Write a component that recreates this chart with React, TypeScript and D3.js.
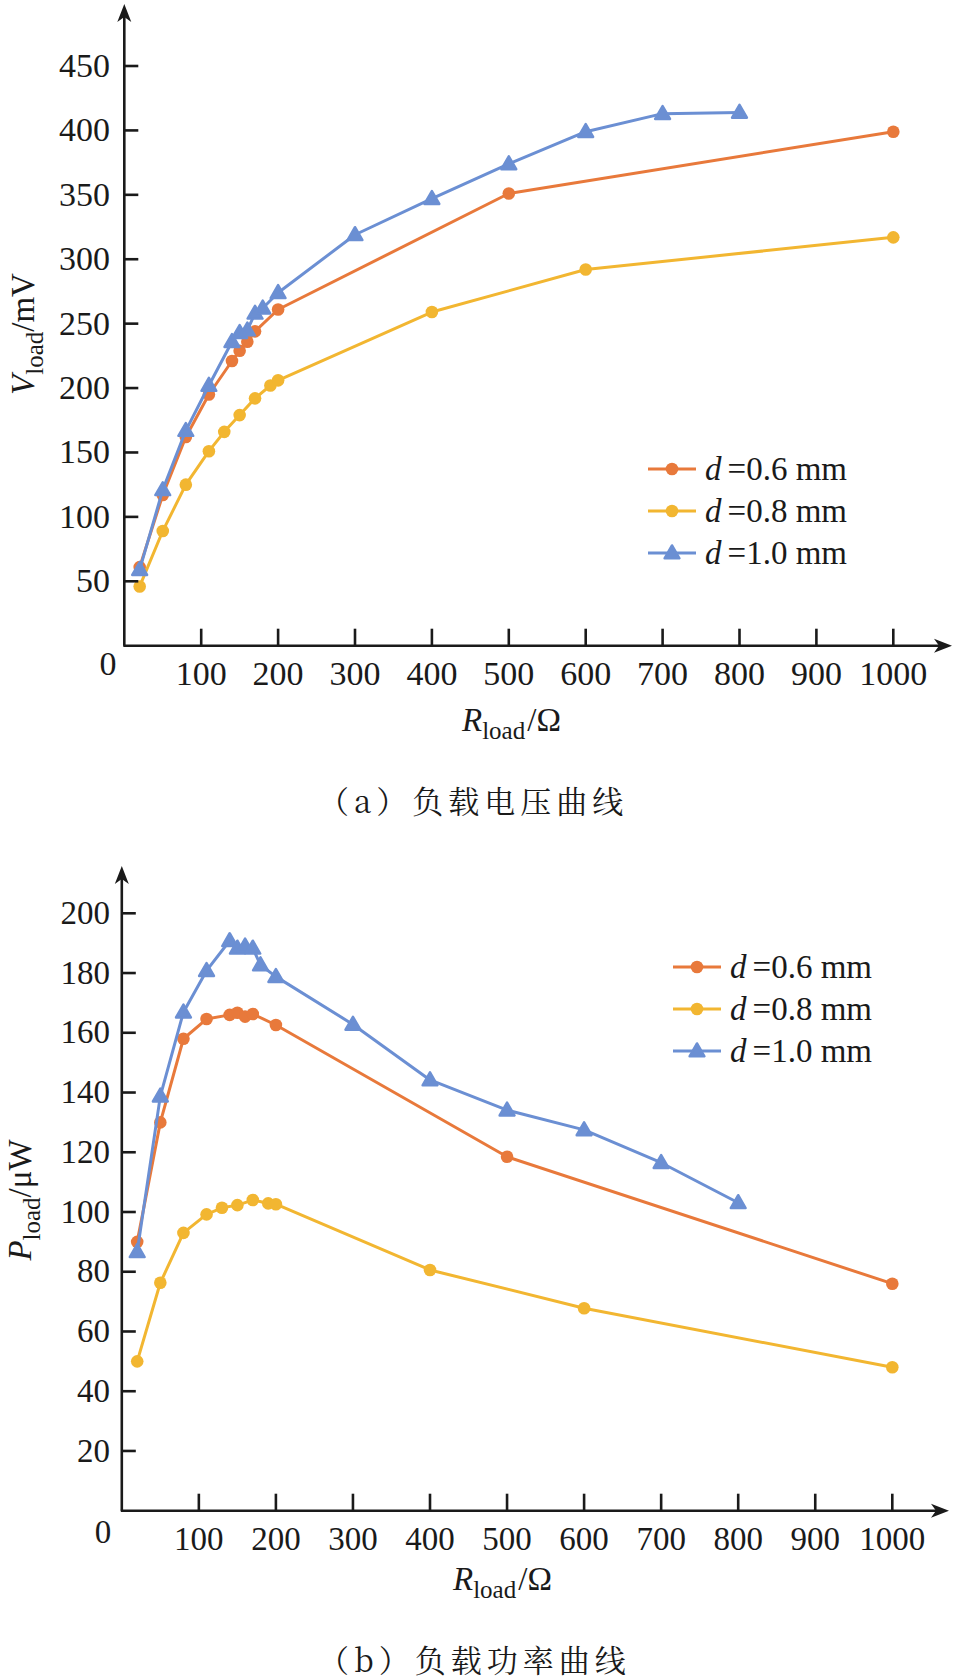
import * as d3 from 'd3';

// ---- shared ----
const xTicks = [100, 200, 300, 400, 500, 600, 700, 800, 900, 1000];
const vTicks = [50, 100, 150, 200, 250, 300, 350, 400, 450];
const pTicks = [20, 40, 60, 80, 100, 120, 140, 160, 180, 200];
const legendLabels = ['0.6 mm', '0.8 mm', '1.0 mm'];
const colors = ['#E8793B', '#F2B631', '#6B8FD3'];

// ---- (a) load voltage, mV ----
const rA06 = [20, 50, 80, 110, 140, 150, 160, 170, 200, 500, 1000];
const vA06 = [61, 117, 162, 195, 221, 229, 236, 244, 261, 351, 399];
const rA08 = [20, 50, 80, 110, 130, 150, 170, 190, 200, 400, 600, 1000];
const vA08 = [46, 89, 125, 151, 166, 179, 192, 202, 206, 259, 292, 317];
const rA10 = [20, 50, 80, 110, 140, 150, 160, 170, 180, 200, 300, 400, 500, 600, 700, 800];
const vA10 = [59, 121, 167, 202, 236, 243, 245, 258, 262, 274, 319, 347, 374, 399, 413, 414];

// ---- (b) load power, uW ----
const rB06 = [20, 50, 80, 110, 140, 150, 160, 170, 200, 500, 1000];
const pB06 = [90, 130, 158, 164.6, 166, 166.7, 165.4, 166.3, 162.6, 118.5, 76];
const rB08 = [20, 50, 80, 110, 130, 150, 170, 190, 200, 400, 600, 1000];
const pB08 = [50, 76.3, 93, 99.2, 101.4, 102.3, 104, 102.9, 102.6, 80.6, 67.8, 48];
const rB10 = [20, 50, 80, 110, 140, 150, 160, 170, 180, 200, 300, 400, 500, 600, 700, 800];
const pB10 = [86.7, 138.8, 166.9, 180.8, 190.8, 188.3, 189, 188.3, 182.7, 178.8, 162.8, 144.2, 134.1, 127.5, 116.5, 103.1];

const SERIF = '"Liberation Serif", "Times New Roman", serif';
const CJK = '"Noto Serif CJK SC", "Noto Sans CJK SC", sans-serif';

const zip = (xs: number[], ys: number[]) => xs.map((x, i) => [x, ys[i]] as [number, number]);
const triPath = d3.symbol().type(d3.symbolTriangle).size(95)() as string;

function Marker({ x, y, color, tri }: { x: number; y: number; color: string; tri: boolean }) {
  if (tri) return <path d={triPath} transform={`translate(${x},${y + 1})`} fill={color} stroke={color} strokeWidth={2.5} strokeLinejoin="round" />;
  return <circle cx={x} cy={y} r={6.3} fill={color} />;
}

interface PanelProps {
  series: [number, number][][];
  xs: d3.ScaleLinear<number, number>;
  ys: d3.ScaleLinear<number, number>;
  yTicks: number[];
  yTipY: number;
  xTipX: number;
  fontSize: number;
  zero: { x: number; y: number };
  xLabelY: number;
  xTitle: { x: number; y: number };
  yTitle: { x: number; y: number; main: string; unit: string };
  legend: { x: number; y: number; dy: number };
  caption: { x: number; y: number; text: string };
}

function Panel(p: PanelProps) {
  const { xs, ys, fontSize: fs } = p;
  const x0 = xs(0);
  const y0 = ys(0);
  const line = d3.line<[number, number]>().x(d => xs(d[0])).y(d => ys(d[1]));
  return (
    <g>
      {/* series, yellow drawn first so orange/blue sit above */}
      {[1, 0, 2].map(i => (
        <g key={i}>
          <path d={line(p.series[i]) ?? ''} fill="none" stroke={colors[i]} strokeWidth={3} strokeLinejoin="round" />
          {p.series[i].map((d, j) => (
            <Marker key={j} x={xs(d[0])} y={ys(d[1])} color={colors[i]} tri={i === 2} />
          ))}
        </g>
      ))}

      {/* axes */}
      <g stroke="#1a1a1a" strokeWidth={2.6} fill="none">
        <line x1={x0} y1={y0} x2={x0} y2={p.yTipY + 12} />
        <line x1={x0 - 1} y1={y0} x2={p.xTipX - 12} y2={y0} />
        {p.yTicks.map(t => (
          <line key={t} x1={x0} x2={x0 + 14} y1={ys(t)} y2={ys(t)} />
        ))}
        {xTicks.map(t => (
          <line key={t} x1={xs(t)} x2={xs(t)} y1={y0} y2={y0 - 17} />
        ))}
      </g>
      <path d={`M${x0},${p.yTipY}L${x0 - 7},${p.yTipY + 18}L${x0},${p.yTipY + 13}L${x0 + 7},${p.yTipY + 18}Z`} fill="#1a1a1a" />
      <path d={`M${p.xTipX},${y0}L${p.xTipX - 18},${y0 - 7}L${p.xTipX - 13},${y0}L${p.xTipX - 18},${y0 + 7}Z`} fill="#1a1a1a" />

      <g fontFamily={SERIF} fontSize={fs} fill="#1a1a1a">
        {p.yTicks.map(t => (
          <text key={t} x={110} y={ys(t) + fs * 0.32} textAnchor="end">{t}</text>
        ))}
        {xTicks.map(t => (
          <text key={t} x={xs(t)} y={p.xLabelY} textAnchor="middle">{t}</text>
        ))}
        <text x={p.zero.x} y={p.zero.y} textAnchor="middle">0</text>

        <text x={p.xTitle.x} y={p.xTitle.y} fontSize={33}>
          <tspan fontStyle="italic">R</tspan>
          <tspan fontSize={25} dy={8}>load</tspan>
          <tspan dy={-8} dx={2}>/Ω</tspan>
        </text>
        <text transform={`translate(${p.yTitle.x},${p.yTitle.y}) rotate(-90)`} textAnchor="middle" fontSize={33}>
          <tspan fontStyle="italic">{p.yTitle.main}</tspan>
          <tspan fontSize={25} dy={9}>load</tspan>
          <tspan dy={-9}>/{p.yTitle.unit}</tspan>
        </text>

        {legendLabels.map((lab, i) => {
          const ly = p.legend.y + i * p.legend.dy;
          return (
            <g key={lab}>
              <line x1={p.legend.x} x2={p.legend.x + 48} y1={ly} y2={ly} stroke={colors[i]} strokeWidth={3} />
              <Marker x={p.legend.x + 24} y={ly} color={colors[i]} tri={i === 2} />
              <text x={p.legend.x + 57} y={ly + 11} fontSize={33}>
                <tspan fontStyle="italic">d</tspan>
                <tspan dx={6}>={lab}</tspan>
              </text>
            </g>
          );
        })}
      </g>

      <text x={p.caption.x} y={p.caption.y} fontFamily={CJK} fontSize={31} letterSpacing={5} fill="#1a1a1a">
        {p.caption.text}
      </text>
    </g>
  );
}

export default function App() {
  const xA = d3.scaleLinear().domain([0, 1000]).range([124.3, 893.3]);
  const yA = d3.scaleLinear().domain([0, 450]).range([645.7, 66]);
  const xB = d3.scaleLinear().domain([0, 1000]).range([121.8, 892.3]);
  const yB = d3.scaleLinear().domain([0, 200]).range([1510.7, 913.3]);

  return (
    <svg width={954} height={1677} viewBox="0 0 954 1677" style={{ position: 'absolute', left: 0, top: 0, background: '#fff' }}>
      <rect width={954} height={1677} fill="#fff" />
      <Panel
        series={[zip(rA06, vA06), zip(rA08, vA08), zip(rA10, vA10)]}
        xs={xA}
        ys={yA}
        yTicks={vTicks}
        yTipY={4}
        xTipX={952}
        fontSize={34}
        zero={{ x: 108, y: 675 }}
        xLabelY={685}
        xTitle={{ x: 462, y: 731 }}
        yTitle={{ x: 34, y: 334, main: 'V', unit: 'mV' }}
        legend={{ x: 648, y: 469, dy: 42 }}
        caption={{ x: 318, y: 813, text: '（a）负载电压曲线' }}
      />
      <Panel
        series={[zip(rB06, pB06), zip(rB08, pB08), zip(rB10, pB10)]}
        xs={xB}
        ys={yB}
        yTicks={pTicks}
        yTipY={866}
        xTipX={949}
        fontSize={33}
        zero={{ x: 103, y: 1543 }}
        xLabelY={1550}
        xTitle={{ x: 453, y: 1590 }}
        yTitle={{ x: 31, y: 1200, main: 'P', unit: 'μW' }}
        legend={{ x: 673, y: 967, dy: 42 }}
        caption={{ x: 318, y: 1672, text: '（b）负载功率曲线' }}
      />
    </svg>
  );
}
